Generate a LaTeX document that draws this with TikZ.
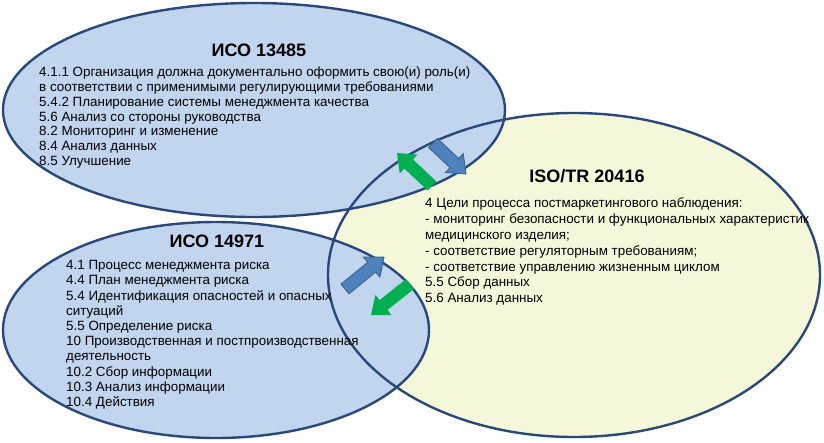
\documentclass[tikz,border=0pt]{standalone}
\usepackage{fontspec}
\setmainfont{Liberation Sans}
\usetikzlibrary{calc}
\definecolor{ellline}{RGB}{42,72,120}
\definecolor{bluefill}{RGB}{193,213,238}
\definecolor{yelfill}{RGB}{245,247,218}
\definecolor{arrblue}{RGB}{79,129,189}
\definecolor{arrblueline}{RGB}{56,93,138}
\definecolor{arrgreen}{RGB}{0,176,80}
\tikzset{
  ell/.style={draw=ellline, line width=2.4pt},
  ttl/.style={font=\fontsize{18}{20}\selectfont\bfseries, anchor=base, inner sep=0pt},
  body/.style={align=left, anchor=north west, inner sep=0pt},
  bluearr/.style={fill=arrblue, draw=arrblueline, line width=0.8pt, line join=miter},
  greenarr/.style={fill=arrgreen, draw=none},
}
\newcommand{\blkarrow}[4]{%
  \coordinate (#1t) at #3;
  \coordinate (#1h) at #4;
  \coordinate (#1b) at ($(#1h)!16pt!(#1t)$);
  \path[#2] ($(#1t)!6.3pt!90:(#1h)$) -- ($(#1b)!6.3pt!90:(#1h)$) -- ($(#1b)!13pt!90:(#1h)$) -- (#1h)
    -- ($(#1b)!13pt!-90:(#1h)$) -- ($(#1b)!6.3pt!-90:(#1h)$) -- ($(#1t)!6.3pt!-90:(#1h)$) -- cycle;
}
\begin{document}
\begin{tikzpicture}[x=1pt,y=-1pt]
\useasboundingbox[fill=white] (0,0) rectangle (824,442);
% fills
\fill[yelfill] (574,275) ellipse [x radius=246, y radius=162];
\fill[bluefill] (254,110) ellipse [x radius=251, y radius=107];
\fill[bluefill] (216,330) ellipse [x radius=213, y radius=108];
% outlines
\draw[ell] (574,275) ellipse [x radius=246, y radius=162];
\draw[ell] (254,110) ellipse [x radius=251, y radius=107];
\draw[ell] (216,330) ellipse [x radius=213, y radius=108];
% arrows
\blkarrow{ga}{greenarr}{(432,186)}{(397,153)}
\blkarrow{ba}{bluearr}{(433,143)}{(466,174)}
\blkarrow{bb}{bluearr}{(345,289)}{(384,257)}
\blkarrow{gb}{greenarr}{(410,284)}{(371,315)}
% texts
\node[ttl] (t1) at (259,56) {ИСО 13485};
\node[body, font=\fontsize{13.4}{14.8}\selectfont] (b1) at (39,66.1) {\strut 4.1.1 Организация должна документально оформить свою(и) роль(и)\\
в соответствии с применимыми регулирующими требованиями\\
5.4.2 Планирование системы менеджмента качества\\
5.6 Анализ со стороны руководства\\
8.2 Мониторинг и изменение\\
8.4 Анализ данных\\
8.5 Улучшение};
\node[ttl] (t2) at (587,182.5) {ISO/TR 20416};
\node[body, font=\fontsize{13.4}{15.8}\selectfont] (b2) at (425,196.7) {\strut 4 Цели процесса постмаркетингового наблюдения:\\
- мониторинг безопасности и функциональных характеристик\\
медицинского изделия;\\
- соответствие регуляторным требованиям;\\
- соответствие управлению жизненным циклом\\
5.5 Сбор данных\\
5.6 Анализ данных};
\node[ttl] (t3) at (217,247.5) {ИСО 14971};
\node[body, font=\fontsize{13.4}{15.2}\selectfont] (b3) at (66,258.9) {\strut 4.1 Процесс менеджмента риска\\
4.4 План менеджмента риска\\
5.4 Идентификация опасностей и опасных\\
ситуаций\\
5.5 Определение риска\\
10 Производственная и постпроизводственная\\
деятельность\\
10.2 Сбор информации\\
10.3 Анализ информации\\
10.4 Действия};
\end{tikzpicture}
\end{document}
